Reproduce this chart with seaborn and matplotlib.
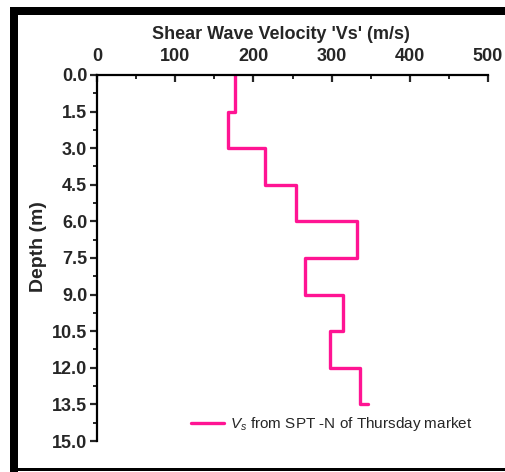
import numpy as np
import pandas as pd
import seaborn as sns
import matplotlib
matplotlib.use("Agg")
import matplotlib.pyplot as plt
from matplotlib.patches import Rectangle
from matplotlib.ticker import MultipleLocator

# ---- data ----
depth = [0.0, 1.5, 3.0, 4.5, 6.0, 7.5, 9.0, 10.5, 12.0, 13.5]
vs = [176, 168, 215, 255, 333, 266, 314, 298, 336, 347]
x_ticks = [0, 100, 200, 300, 400, 500]
y_ticks = [0.0, 1.5, 3.0, 4.5, 6.0, 7.5, 9.0, 10.5, 12.0, 13.5, 15.0]
legend_label = r"$V_s$ from SPT -N of Thursday market"

# build step profile vertices from the data
sx, sy = [], []
for i in range(len(depth) - 1):
    sx += [vs[i], vs[i]]
    sy += [depth[i], depth[i + 1]]
sx.append(vs[-1])
sy.append(depth[-1])
df = pd.DataFrame({"Vs": sx, "Depth": sy, "order": range(len(sx))})

sns.set_theme(style="white")
plt.rcParams['font.family'] = ['Liberation Sans', 'DejaVu Sans']
plt.rcParams['mathtext.fontset'] = 'custom'
plt.rcParams['mathtext.it'] = 'Liberation Sans:italic'
plt.rcParams['mathtext.rm'] = 'Liberation Sans'

W, H = 505, 472
fig = plt.figure(figsize=(W / 100, H / 100), dpi=100)
ax = fig.add_axes([97 / W, 1 - 441 / H, (488 - 97) / W, (441 - 75) / H])

sns.lineplot(data=df, x="Vs", y="Depth", sort=False, estimator=None,
             color="#ff1493", linewidth=2.4, ax=ax, label=legend_label)

ax.set_xlim(0, 500)
ax.set_ylim(15, 0)
ax.xaxis.tick_top()
ax.xaxis.set_label_position("top")
ax.set_xticks(x_ticks)
ax.set_yticks(y_ticks)
ax.set_yticklabels([f"{v:.1f}" for v in y_ticks])
ax.xaxis.set_minor_locator(MultipleLocator(50))
ax.yaxis.set_minor_locator(MultipleLocator(0.75))

for s in ["right", "bottom"]:
    ax.spines[s].set_visible(False)
for s in ["left", "top"]:
    ax.spines[s].set_linewidth(1.6)
    ax.spines[s].set_color("black")

ax.tick_params(axis="x", which="major", direction="in", length=5, width=1.6,
               top=True, bottom=False, labelsize=13, pad=7)
ax.tick_params(axis="x", which="minor", direction="in", length=3, width=1.4,
               top=True, bottom=False)
ax.tick_params(axis="y", which="major", direction="out", length=5, width=1.6,
               left=True, labelsize=13, pad=2)
ax.tick_params(axis="y", which="minor", direction="out", length=3, width=1.4,
               left=True)
for lab in ax.get_xticklabels() + ax.get_yticklabels():
    lab.set_fontweight("bold")

ax.set_xlabel("Shear Wave Velocity 'Vs' (m/s)", fontsize=13, fontweight="bold")
ax.set_ylabel("Depth (m)", fontsize=14, fontweight="bold")
ax.xaxis.set_label_coords(0.47, 1.098)
ax.yaxis.set_label_coords(-0.127, 0.53)

ax.legend(loc="lower center", bbox_to_anchor=(0.6, -0.017), frameon=False,
          fontsize=11, handlelength=2.2, handletextpad=0.4)

# outer border
fig.add_artist(Rectangle((10 / W, 0), 8 / W, 1 - 7 / H, transform=fig.transFigure,
                         color="black", lw=0))
fig.add_artist(Rectangle((10 / W, 1 - 15 / H), 1, 8 / H, transform=fig.transFigure,
                         color="black", lw=0))
fig.add_artist(Rectangle((10 / W, 1 - 471 / H), 1, 3 / H, transform=fig.transFigure,
                         color="black", lw=0))

fig.savefig("out.png", dpi=100)
